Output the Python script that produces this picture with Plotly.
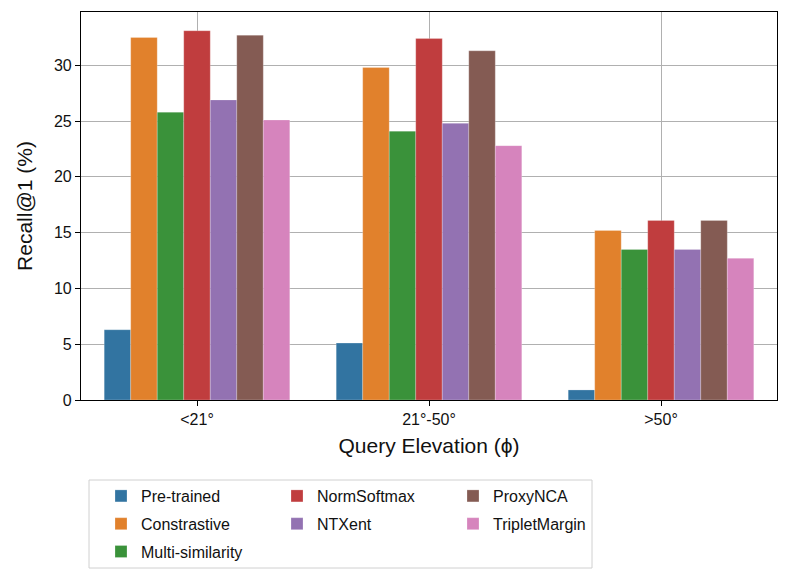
import plotly.graph_objects as go

categories = ["<21°", "21°-50°", ">50°"]
methods = ["Pre-trained", "Constrastive", "Multi-similarity", "NormSoftmax",
           "NTXent", "ProxyNCA", "TripletMargin"]
colors = ["#3274a1", "#e1812c", "#3a923a", "#c03d3e", "#9372b2", "#845b53", "#d684bd"]

pretrained = [6.3, 5.1, 0.9]
constrastive = [32.5, 29.8, 15.2]
multi_similarity = [25.8, 24.1, 13.5]
normsoftmax = [33.1, 32.4, 16.1]
ntxent = [26.9, 24.8, 13.5]
proxynca = [32.7, 31.3, 16.1]
tripletmargin = [25.1, 22.8, 12.7]

series = [pretrained, constrastive, multi_similarity, normsoftmax,
          ntxent, proxynca, tripletmargin]
legend_ids = ["legend", "legend", "legend", "legend2", "legend2", "legend3", "legend3"]

FONT = "Liberation Sans"

fig = go.Figure()
for name, vals, col, lg in zip(methods, series, colors, legend_ids):
    fig.add_trace(go.Bar(
        x=categories, y=vals, name=name, legend=lg, legendgroup=name,
        marker=dict(color=col, line=dict(color="rgba(255,255,255,0.4)", width=0.6)),
    ))

# page body adds an 8px offset; compensate so the screenshot matches
OFF = 8
W, H = 790 - OFF, 581 - OFF
L, T = 81 - OFF, 12 - OFF
R = W - (777 - OFF)
B = H - (400 - OFF)
pw, ph = W - L - R, H - T - B

def px(x):
    return (x - OFF - L) / pw

def py(y):
    return (H - B - (y - OFF)) / ph

leg_common = dict(
    font=dict(family=FONT, size=16, color="#111"),
    bgcolor="rgba(0,0,0,0)", borderwidth=0,
    yanchor="top", xanchor="left", orientation="v",
    tracegroupgap=4, itemwidth=30,
)
fig.update_layout(
    width=W, height=H,
    margin=dict(l=L, r=R, t=T, b=B, autoexpand=False),
    paper_bgcolor="white", plot_bgcolor="white",
    font=dict(family=FONT, size=16, color="#111"),
    barmode="group", bargap=0.2, bargroupgap=0,
    legend=dict(x=px(101), y=py(479), **leg_common),
    legend2=dict(x=px(277), y=py(479), **leg_common),
    legend3=dict(x=px(453), y=py(479), **leg_common),
    xaxis=dict(
        range=[-0.5, 2.5], showgrid=True, gridcolor="#b0b0b0", gridwidth=1,
        showline=True, linecolor="black", linewidth=1.2, mirror=True,
        ticks="outside", ticklen=5, tickcolor="black",
        tickfont=dict(family=FONT, size=16, color="#111"),
        title=dict(text="Query Elevation (ϕ)", font=dict(family=FONT, size=21, color="#111"), standoff=11),
    ),
    yaxis=dict(
        range=[0, 34.78], tickvals=[0, 5, 10, 15, 20, 25, 30],
        showgrid=True, gridcolor="#b0b0b0", gridwidth=1, zeroline=False,
        showline=True, linecolor="black", linewidth=1.2, mirror=True,
        ticks="outside", ticklen=5, tickcolor="black",
        tickfont=dict(family=FONT, size=16, color="#111"),
        title=dict(text="Recall@1 (%)", font=dict(family=FONT, size=21, color="#111"), standoff=15),
    ),
    shapes=[dict(
        type="rect", xref="paper", yref="paper",
        x0=px(89), x1=px(592), y0=py(568), y1=py(480),
        line=dict(color="#d0d0d0", width=1), fillcolor="rgba(0,0,0,0)", layer="below",
    )],
)

fig.write_html("out.html")
